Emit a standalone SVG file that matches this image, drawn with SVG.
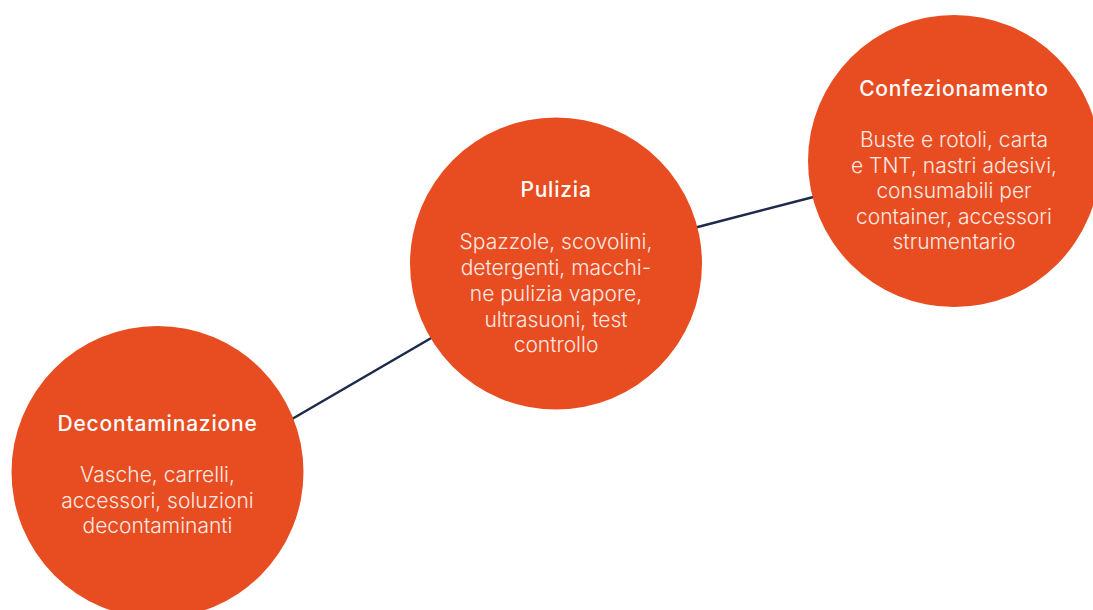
<svg xmlns="http://www.w3.org/2000/svg" width="1093" height="610" viewBox="0 0 1093 610">
<style>
.node{fill:#E84D22}
.t{font-family:Inter,"Liberation Sans",Arial,sans-serif;font-size:21px;font-weight:500;letter-spacing:0.8px;fill:#FFFFFF;text-anchor:middle}
.b{font-family:Inter,"Liberation Sans",Arial,sans-serif;font-size:21px;font-weight:300;fill:#FCE9E2;text-anchor:middle}
.c{stroke:#1E2A4A;stroke-width:2.5;fill:none}
</style>
<rect width="1093" height="610" fill="#FFFFFF"/>
<g id="connectors">
<line class="c" x1="280" y1="426" x2="445" y2="330"/>
<line class="c" x1="690" y1="229" x2="825" y2="194"/>
</g>
<g id="decontaminazione">
<circle class="node" cx="157.5" cy="472" r="146"/>
<text class="t" x="157.5" y="431">Decontaminazione</text>
<text class="b" x="157.5" y="482">Vasche, carrelli,</text>
<text class="b" x="157.5" y="507.5">accessori, soluzioni</text>
<text class="b" x="157.5" y="533">decontaminanti</text>
</g>
<g id="pulizia">
<circle class="node" cx="556" cy="263.5" r="146"/>
<text class="t" x="556" y="197">Pulizia</text>
<text class="b" x="556" y="249">Spazzole, scovolini,</text>
<text class="b" x="556" y="275">detergenti, macchi-</text>
<text class="b" x="556" y="301">ne pulizia vapore,</text>
<text class="b" x="556" y="327">ultrasuoni, test</text>
<text class="b" x="556" y="352">controllo</text>
</g>
<g id="confezionamento">
<circle class="node" cx="954" cy="161" r="146"/>
<text class="t" x="954" y="96">Confezionamento</text>
<text class="b" x="954" y="147">Buste e rotoli, carta</text>
<text class="b" x="954" y="172.5">e TNT, nastri adesivi,</text>
<text class="b" x="954" y="198">consumabili per</text>
<text class="b" x="954" y="224">container, accessori</text>
<text class="b" x="954" y="249">strumentario</text>
</g>
</svg>
